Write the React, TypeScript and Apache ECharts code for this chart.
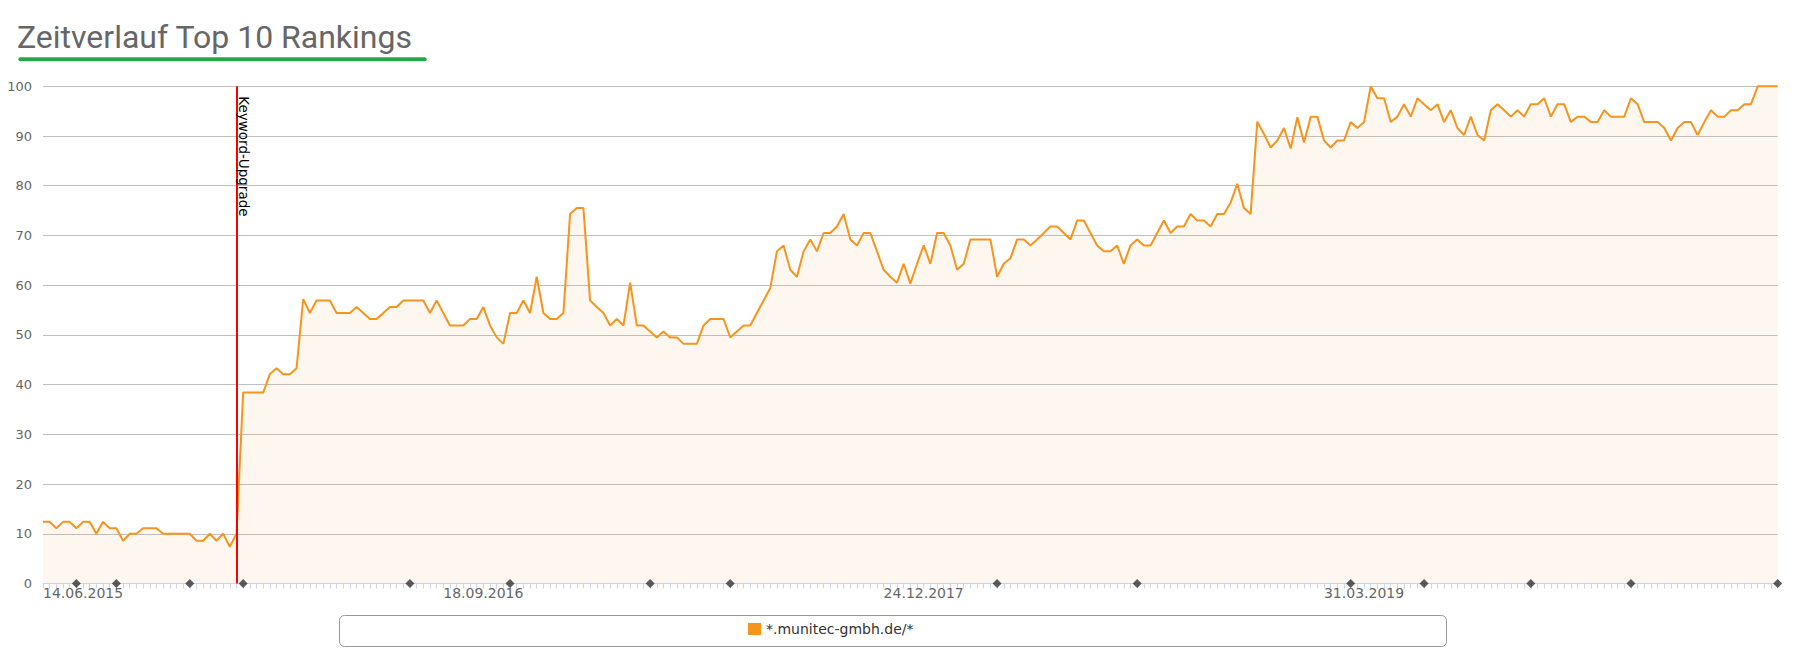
import React, { useEffect, useRef } from 'react';
import * as echarts from 'echarts';

const TITLE = 'Zeitverlauf Top 10 Rankings';
const SERIES_NAME = '*.munitec-gmbh.de/*';
const START_DATE = '2015-06-14';
const TICK_LABELS = ['14.06.2015', '18.09.2016', '24.12.2017', '31.03.2019'];
const UPGRADE_DATE = '03.01.2016';
const UPGRADE_LABEL = 'Keyword-Upgrade';
const EVENT_DATES = [
  '19.07.2015', '30.08.2015', '15.11.2015', '10.01.2016', '03.07.2016',
  '16.10.2016', '12.03.2017', '04.06.2017', '11.03.2018', '05.08.2018',
  '17.03.2019', '02.06.2019', '22.09.2019', '05.01.2020', '07.06.2020',
];

// weekly top-10 share (%)
const RANK_A = [
  12.4, 12.4, 11.1, 12.4, 12.4, 11.1, 12.4, 12.4, 10, 12.4,
  11.1, 11.1, 8.6, 10, 10, 11.1, 11.1, 11.1, 10, 10,
  10, 10, 10, 8.6, 8.6, 10, 8.6, 10, 7.4, 10,
];
const RANK_B = [
  38.4, 38.4, 38.4, 38.4, 42.1, 43.3, 42.1, 42.1, 43.3, 57.2,
  54.4, 56.9, 56.9, 56.9, 54.4, 54.4, 54.4, 55.6, 54.4, 53.2,
  53.2, 54.4, 55.6, 55.6,
];
const RANK_C = [
  56.9, 56.9, 56.9, 56.9, 54.4, 56.9, 54.4, 51.9, 51.9, 51.9,
  53.2, 53.2, 55.6, 51.9, 49.5, 48.2, 54.4, 54.4, 56.9, 54.4,
  61.7, 54.4, 53.2, 53.2, 54.4, 74.3, 75.5, 75.5, 56.9, 55.6,
  54.4, 51.9, 53.2, 51.9, 60.5, 51.9, 51.9, 50.7, 49.5, 50.7,
  49.5, 49.5, 48.2, 48.2, 48.2, 51.9, 53.2, 53.2, 53.2, 49.5,
  50.7, 51.9, 51.9, 54.4, 56.9, 59.4, 66.8, 68.0, 63.1, 61.7,
];
const RANK_D = [
  66.8, 69.2, 66.8, 70.5, 70.5, 71.8, 74.3, 69.2, 68.0, 70.5,
  70.5, 66.8, 63.1, 61.7, 60.5, 64.3, 60.3, 64.3, 68.0, 64.3,
  70.5, 70.5, 68.0, 63.1, 64.3, 69.2, 69.2, 69.2, 69.2, 61.7,
  64.3, 65.4, 69.2, 69.2, 68.0, 69.2, 70.5, 71.8, 71.8, 70.5,
  69.2, 73.0, 73.0, 70.5, 68.0, 66.8, 66.8, 68.0, 64.3, 68.0,
  69.2, 68.0, 68.0, 70.5, 73.0, 70.5, 71.8, 71.8, 74.3, 73.0,
  73.0, 71.8, 74.3, 74.3, 76.6, 80.4, 75.5, 74.3, 92.9, 90.4,
  87.7, 89.1, 91.6, 87.5, 93.8,
];
const RANK_E = [
  88.7, 93.9, 93.9, 89.1, 87.7, 89.1, 89.1, 92.8, 91.6, 92.8,
  100, 97.6, 97.6, 92.8, 93.9, 96.4, 93.9, 97.6, 96.4, 95.2,
  96.4, 92.8, 95.2, 91.6, 90.2, 93.9, 90.2, 89.1, 95.2, 96.4,
  95.2, 93.9, 95.2, 93.9, 96.4, 96.4, 97.6, 93.9, 96.4, 96.4,
  92.8, 93.9, 93.9, 92.8, 92.8, 95.2, 93.9, 93.9, 93.9, 97.6,
  96.4, 92.8, 92.8, 92.8, 91.6, 89.1, 91.6, 92.8, 92.8, 90.2,
  92.8, 95.2, 93.9, 93.9, 95.2, 95.2, 96.4, 96.4, 100, 100,
  100, 100,
];
const RANKINGS = [...RANK_A, ...RANK_B, ...RANK_C, ...RANK_D, ...RANK_E];

function pad(n: number) {
  return n < 10 ? '0' + n : String(n);
}
function weeklyDates(start: string, count: number): string[] {
  const t0 = new Date(start + 'T00:00:00Z').getTime();
  const out: string[] = [];
  for (let i = 0; i < count; i++) {
    const d = new Date(t0 + i * 7 * 86400000);
    out.push(`${pad(d.getUTCDate())}.${pad(d.getUTCMonth() + 1)}.${d.getUTCFullYear()}`);
  }
  return out;
}
const CATEGORIES = weeklyDates(START_DATE, RANKINGS.length);

const ORANGE = '#f7941d';
const FONT = 'DejaVu Sans';

export default function App() {
  const ref = useRef<HTMLDivElement>(null);
  useEffect(() => {
    if (!ref.current) return;
    const chart = echarts.init(ref.current, undefined, { renderer: 'svg' });
    chart.setOption({
      animation: false,
      backgroundColor: '#ffffff',
      textStyle: { fontFamily: FONT },
      grid: { left: 43, right: 38.3, top: 86.3, bottom: 78.5, containLabel: false },
      graphic: [
        {
          type: 'text',
          x: 17,
          y: 37.4,
          style: {
            text: TITLE,
            fontFamily: 'Roboto',
            fontSize: 32,
            fill: '#666666',
            verticalAlign: 'middle',
          },
        },
        {
          type: 'line',
          shape: { x1: 20.3, y1: 59.3, x2: 424.7, y2: 59.3 },
          style: { stroke: '#23a84a', lineWidth: 4, lineCap: 'round' },
        },
        {
          type: 'rect',
          shape: { x: 339.5, y: 615.5, width: 1107, height: 31, r: 5 },
          style: { fill: 'none', stroke: '#999999', lineWidth: 1 },
        },
      ],
      legend: {
        data: [SERIES_NAME],
        left: 743,
        top: 617,
        itemWidth: 13,
        itemHeight: 12,
        icon: 'rect',
        selectedMode: false,
        textStyle: { fontSize: 14, color: '#333333', fontFamily: FONT },
      },
      xAxis: {
        type: 'category',
        data: CATEGORIES,
        boundaryGap: false,
        axisLine: { lineStyle: { color: '#ccd6eb', width: 1 } },
        axisTick: { show: true, interval: 0, length: 5, lineStyle: { color: '#ccd6eb' } },
        axisLabel: {
          interval: (_i: number, v: string) => TICK_LABELS.includes(v),
          color: '#666666',
          fontSize: 14,
          fontFamily: FONT,
          margin: 2,
          alignMinLabel: 'left',
        },
        splitLine: { show: false },
      },
      yAxis: {
        type: 'value',
        min: 0,
        max: 100,
        interval: 10,
        axisLine: { show: false },
        axisTick: { show: false },
        splitLine: { lineStyle: { color: '#c0c0c0', width: 1 } },
        axisLabel: {
          color: '#666666',
          fontSize: 13,
          fontFamily: FONT,
          margin: 11,
          padding: [0, 0, 4, 0],
        },
      },
      series: [
        {
          name: SERIES_NAME,
          type: 'line',
          data: RANKINGS,
          showSymbol: false,
          clip: false,
          lineStyle: { color: ORANGE, width: 2 },
          itemStyle: { color: ORANGE },
          areaStyle: { color: 'rgba(247,148,29,0.1)' },
          markLine: {
            silent: true,
            animation: false,
            symbol: ['none', 'none'],
            lineStyle: { color: '#ff0000', width: 2, type: 'solid' },
            label: {
              show: true,
              formatter: UPGRADE_LABEL,
              position: 'insideStartTop',
              distance: [10, 1],
              color: '#000000',
              fontSize: 13.5,
              fontFamily: FONT,
            },
            data: [[{ coord: [UPGRADE_DATE, 100] }, { coord: [UPGRADE_DATE, 0] }]],
          },
        },
        {
          type: 'scatter',
          data: EVENT_DATES.map((d) => [d, 0]),
          symbol: 'diamond',
          symbolSize: 9,
          clip: false,
          silent: true,
          itemStyle: { color: '#333333' },
          z: 5,
        },
      ],
    });
    return () => chart.dispose();
  }, []);
  return (
    <div
      ref={ref}
      style={{ position: 'absolute', left: 0, top: 0, width: 1816, height: 662 }}
    />
  );
}
